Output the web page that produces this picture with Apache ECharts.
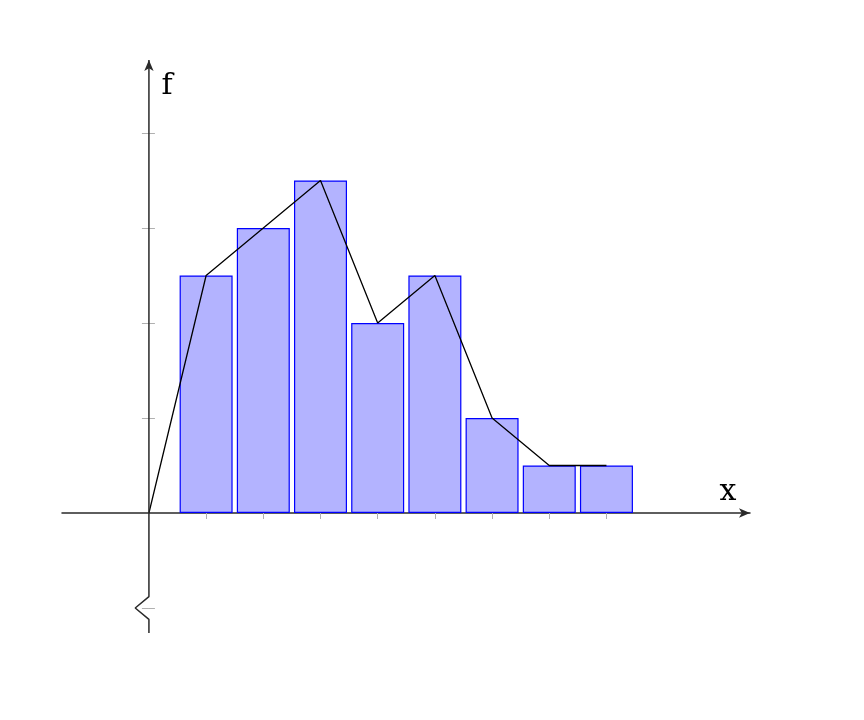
<!DOCTYPE html>
<html><head><meta charset="utf-8">
<script src="https://cdn.jsdelivr.net/npm/echarts@6/dist/echarts.min.js"></script>
<style>html,body{margin:0;padding:0;background:#fff}#c{width:864px;height:720px}</style>
</head><body><div id="c"></div>
<script>
// Data
const barX = [1, 2, 3, 4, 5, 6, 7, 8];
const barF = [2.5, 3, 3.5, 2, 2.5, 1, 0.5, 0.5];
const polyX = [0, 1, 2, 3, 4, 5, 6, 7, 8];
const polyF = [0, 2.5, 3, 3.5, 2, 2.5, 1, 0.5, 0.5];
const xTicks = [1, 2, 3, 4, 5, 6, 7, 8];
const yTicks = [-1, 1, 2, 3, 4];
const xName = 'x';
const yName = 'f';

const X_MIN = -1.52, X_MAX = 10.51;
const Y_MIN = -1.263, Y_MAX = 4.768;

const chart = echarts.init(document.getElementById('c'), null, {renderer: 'canvas'});
const axisColor = '#2a2a2a';
const tickColor = '#b0b0b0';
const gridBox = {left: 62, right: 864 - 750, top: 60, bottom: 720 - 633};

const yAxisBase = {
  type: 'value', min: Y_MIN, max: Y_MAX,
  axisLine: {show: false, onZero: true},
  axisLabel: {show: false}, splitLine: {show: false}
};

const option = {
  animation: false,
  grid: [Object.assign({}, gridBox), Object.assign({}, gridBox)],
  xAxis: [
    {
      gridIndex: 0, type: 'value', min: X_MIN, max: X_MAX,
      axisLine: {show: true, onZero: true, symbol: ['none', 'arrow'], symbolSize: [7, 11],
        lineStyle: {color: axisColor, width: 1.5}},
      axisTick: {show: true, customValues: xTicks, length: 6, lineStyle: {color: tickColor, width: 1}},
      axisLabel: {show: false}, splitLine: {show: false}
    },
    {
      gridIndex: 1, type: 'value', min: X_MIN, max: X_MAX,
      axisLine: {show: false}, axisTick: {show: false},
      axisLabel: {show: false}, splitLine: {show: false}
    }
  ],
  yAxis: [
    Object.assign({}, yAxisBase, {gridIndex: 0, position: 'left', axisTick: {show: true, inside: false, customValues: yTicks, length: 7, lineStyle: {color: tickColor, width: 1}}}),
    Object.assign({}, yAxisBase, {gridIndex: 1, position: 'right', axisTick: {show: true, inside: false, customValues: yTicks, length: 6, lineStyle: {color: tickColor, width: 1}}})
  ],
  series: [
    {
      type: 'bar', xAxisIndex: 0, yAxisIndex: 0,
      data: barX.map((x, i) => [x, barF[i]]),
      barWidth: 53,
      itemStyle: {color: '#b3b3ff', borderColor: '#0000ff', borderWidth: 1.2},
      z: 2
    },
    {
      type: 'line', xAxisIndex: 0, yAxisIndex: 0,
      data: polyX.map((x, i) => [x, polyF[i]]),
      showSymbol: false, symbol: 'none',
      lineStyle: {color: '#000', width: 1.3},
      z: 3
    },
    {
      // y-axis line with break mark and arrow
      type: 'line', xAxisIndex: 0, yAxisIndex: 0, clip: false,
      data: [
        {value: [0, Y_MIN]},
        {value: [0, -1.12]},
        {value: [-0.24, -1.0]},
        {value: [0, -0.88]},
        {value: [0, Y_MAX], symbol: 'arrow', symbolSize: [7, 11], symbolKeepAspect: true}
      ],
      symbol: 'none', showSymbol: true,
      itemStyle: {color: axisColor},
      lineStyle: {color: axisColor, width: 1.5},
      z: 4, silent: true
    }
  ]
};
chart.setOption(option);

const pX = chart.convertToPixel({xAxisIndex: 0, yAxisIndex: 0}, [X_MAX, 0]);
const pY = chart.convertToPixel({xAxisIndex: 0, yAxisIndex: 0}, [0, Y_MAX]);
chart.setOption({
  graphic: [
    {type: 'text', x: pX[0] - 22, y: pX[1] - 21, style: {text: xName, font: '30px "DejaVu Serif"', fill: '#000', align: 'center', verticalAlign: 'middle'}},
    {type: 'text', x: pY[0] + 18, y: pY[1] + 26, style: {text: yName, font: '30px "DejaVu Serif"', fill: '#000', align: 'center', verticalAlign: 'middle'}}
  ]
});
</script>
</body></html>
